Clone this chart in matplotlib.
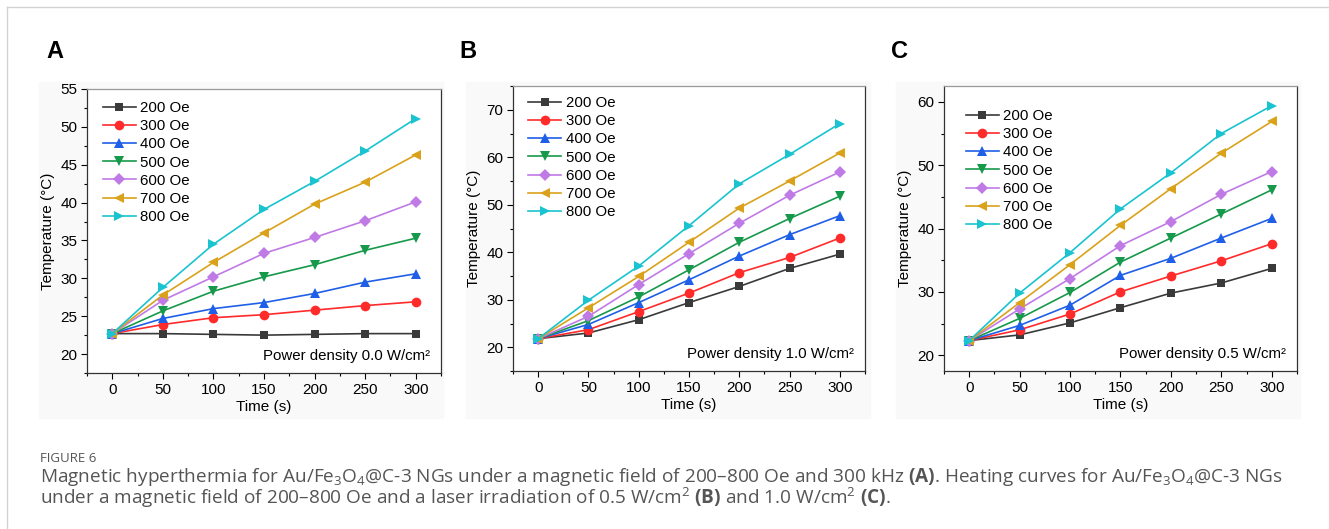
import matplotlib
matplotlib.use("Agg")
import matplotlib.pyplot as plt
from matplotlib.patches import Rectangle
from matplotlib.lines import Line2D
from matplotlib.ticker import MultipleLocator

plt.rcParams['font.family'] = ['Liberation Sans', 'DejaVu Sans']
plt.rcParams['mathtext.fontset'] = 'custom'
plt.rcParams['mathtext.rm'] = 'Open Sans'
plt.rcParams['mathtext.bf'] = 'Open Sans:bold'

# data
time_s = [0, 50, 100, 150, 200, 250, 300]
fields = ["200 Oe", "300 Oe", "400 Oe", "500 Oe", "600 Oe", "700 Oe", "800 Oe"]

temp_a = [
    [22.7, 22.7, 22.6, 22.5, 22.6, 22.7, 22.7],
    [22.7, 23.9, 24.8, 25.2, 25.8, 26.4, 26.9],
    [22.7, 24.7, 26.0, 26.8, 28.0, 29.5, 30.6],
    [22.7, 25.7, 28.3, 30.2, 31.8, 33.7, 35.3],
    [22.7, 27.1, 30.2, 33.3, 35.4, 37.6, 40.1],
    [22.7, 27.8, 32.1, 36.0, 39.8, 42.7, 46.3],
    [22.7, 28.8, 34.5, 39.1, 42.8, 46.8, 51.1],
]
temp_b = [
    [21.8, 23.0, 25.8, 29.4, 32.8, 36.6, 39.6],
    [21.8, 23.7, 27.5, 31.4, 35.7, 38.9, 43.0],
    [21.8, 24.8, 29.4, 34.2, 39.2, 43.7, 47.7],
    [21.8, 25.6, 30.6, 36.3, 42.1, 47.1, 51.8],
    [21.8, 26.5, 33.2, 39.7, 46.1, 52.0, 56.9],
    [21.8, 28.3, 34.9, 42.1, 49.3, 55.0, 60.9],
    [21.8, 29.9, 37.1, 45.6, 54.4, 60.6, 67.1],
]
temp_c = [
    [22.3, 23.2, 25.1, 27.5, 29.8, 31.4, 33.7],
    [22.3, 24.0, 26.5, 30.0, 32.5, 34.9, 37.6],
    [22.3, 24.7, 27.9, 32.6, 35.3, 38.5, 41.6],
    [22.3, 25.8, 29.9, 34.7, 38.5, 42.3, 46.1],
    [22.3, 27.3, 32.1, 37.3, 41.1, 45.4, 49.0],
    [22.3, 28.3, 34.3, 40.5, 46.3, 51.9, 56.9],
    [22.3, 29.8, 36.2, 43.1, 48.8, 55.0, 59.4],
]

colors = ["#3a3a3a", "#ff2a2a", "#1f5fe8", "#16994a", "#c07ae6", "#d9a21a", "#19c3cf"]
markers = ["s", "o", "^", "v", "D", "<", ">"]
msizes = [6, 7, 7.5, 7.5, 6.5, 7.5, 7.5]

W, H = 1329, 529
fig = plt.figure(figsize=(W / 100, H / 100), dpi=100)


def px_axes(left, top, right, bottom):
    return fig.add_axes([left / W, 1 - bottom / H, (right - left) / W, (bottom - top) / H])


# page border and faint panel backgrounds
fig.add_artist(Line2D([7 / W, 1], [1 - 7 / H, 1 - 7 / H], color="#d2d2d2", lw=1))
fig.add_artist(Line2D([7 / W, 7 / W], [0, 1 - 7 / H], color="#d2d2d2", lw=1))
for x0, x1 in [(39, 443), (466, 870), (896, 1300)]:
    fig.add_artist(Rectangle((x0 / W, 1 - 418 / H), (x1 - x0) / W, (418 - 82) / H,
                             transform=fig.transFigure, color="#f9f9f9", zorder=-5))

panels = [
    ("A", temp_a, (87, 89, 441, 373), (17.5, 55), 5, 2.5, "0.0", (0.045, 0.958), 55),
    ("B", temp_b, (513, 86, 865, 371), (15, 75), 10, 5, "1.0", (0.043, 0.965), 468),
    ("C", temp_c, (944, 86, 1297, 371), (17.5, 62.5), 10, 5, "0.5", (0.062, 0.919), 900),
]

for letter, temps, box, ylim, ymaj, ymin, power, leg_xy, letter_x in panels:
    ax = px_axes(*box)
    for i in range(len(fields)):
        ax.plot(time_s, temps[i], color=colors[i], marker=markers[i], ms=msizes[i],
                lw=1.2, label=fields[i], markeredgewidth=0)
    ax.set_xlim(-25, 325)
    ax.set_ylim(*ylim)
    ax.xaxis.set_major_locator(MultipleLocator(50))
    ax.xaxis.set_minor_locator(MultipleLocator(25))
    ax.yaxis.set_major_locator(MultipleLocator(ymaj))
    ax.yaxis.set_minor_locator(MultipleLocator(ymin))
    ax.tick_params(which="major", length=4, width=0.8, labelsize=11, direction="out", pad=3)
    ax.tick_params(which="minor", length=2.5, width=0.8, direction="out")
    for sp in ax.spines.values():
        sp.set_linewidth(0.9)
        sp.set_color("#333333")
    ax.spines["top"].set_color("#999999")
    ax.set_xlabel("Time (s)", fontsize=11, labelpad=2)
    ax.set_ylabel("Temperature (\u00b0C)", fontsize=11, labelpad=4)
    ax.text(0.97, 0.045, "Power density " + power + " W/cm\u00b2", transform=ax.transAxes,
            ha="right", va="baseline", fontsize=10.8)
    ax.legend(loc="upper left", bbox_to_anchor=leg_xy, borderaxespad=0, borderpad=0,
              frameon=False, fontsize=10.8, handlelength=2.2, handletextpad=0.3,
              labelspacing=0.28)
    fig.text(letter_x / W, 1 - 52 / H, letter, fontsize=17, fontweight="bold",
             ha="center", va="center")

# caption
cap_color = "#555555"
fig.text(40 / W, 1 - 459 / H, "FIGURE 6", fontsize=9.5, color=cap_color,
         family="Open Sans", va="center")
fig.text(40 / W, 1 - 477 / H,
         r"Magnetic hyperthermia for Au/Fe$_3$O$_4$@C-3 NGs under a magnetic field of 200–800 Oe "
         r"and 300 kHz $\mathbf{(A)}$. Heating curves for Au/Fe$_3$O$_4$@C-3 NGs",
         fontsize=13.7, color=cap_color, family="Open Sans", va="center")
fig.text(40 / W, 1 - 498 / H,
         r"under a magnetic field of 200–800 Oe and a laser irradiation of 0.5 W/cm$^2$ "
         r"$\mathbf{(B)}$ and 1.0 W/cm$^2$ $\mathbf{(C)}$.",
         fontsize=13.7, color=cap_color, family="Open Sans", va="center")

fig.savefig("out.png", dpi=100)
